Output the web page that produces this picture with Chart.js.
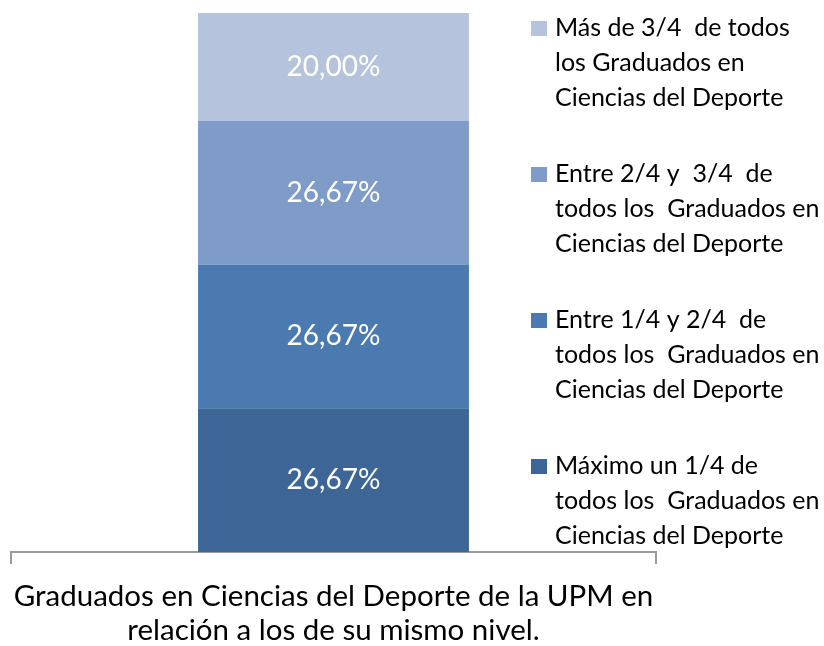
<!DOCTYPE html>
<html>
<head>
<meta charset="utf-8">
<script src="https://cdn.jsdelivr.net/npm/chart.js@4"></script>
<style>
  html, body { margin: 0; padding: 0; background: #fff; }
  #wrap { width: 824px; height: 646px; }
</style>
</head>
<body>
<div id="wrap"><canvas id="chart"></canvas></div>
<script>
// bottom to top of the stack
const categoryLabel = ['Graduados en Ciencias del Deporte de la UPM en', 'relación a los de su mismo nivel.'];
const seriesNames = [
    ['Máximo un 1/4 de', 'todos los  Graduados en', 'Ciencias del Deporte'],
    ['Entre 1/4 y 2/4  de', 'todos los  Graduados en', 'Ciencias del Deporte'],
    ['Entre 2/4 y  3/4  de', 'todos los  Graduados en', 'Ciencias del Deporte'],
    ['Más de 3/4  de todos', 'los Graduados en', 'Ciencias del Deporte']
];
const seriesValues = [26.67, 26.67, 26.67, 20.00];
const seriesColors = ['#3d6595', '#4a7ab0', '#7f9bc7', '#b6c3dd'];

const FONT = 'Lato, "Open Sans", sans-serif';

function fmtPct(v) {
    return v.toFixed(2).replace('.', ',') + '%';
}

// white percentage labels in the middle of each segment
const segmentLabels = {
    id: 'segmentLabels',
    afterDatasetsDraw(chart) {
        const ctx = chart.ctx;
        ctx.save();
        ctx.fillStyle = '#ffffff';
        ctx.font = '28px ' + FONT;
        ctx.textAlign = 'center';
        ctx.textBaseline = 'middle';
        chart.data.datasets.forEach((ds, i) => {
            chart.getDatasetMeta(i).data.forEach((bar, j) => {
                const mid = (bar.y + bar.base) / 2;
                ctx.fillText(fmtPct(ds.data[j]), bar.x, mid);
            });
        });
        ctx.restore();
    }
};

// legend on the right, top item = top of the stack
const sideLegend = {
    id: 'sideLegend',
    afterDraw(chart) {
        const ctx = chart.ctx;
        const x0 = 531;
        const lineH = 35;
        const itemStep = 146;
        ctx.save();
        ctx.font = '25px ' + FONT;
        ctx.textBaseline = 'middle';
        ctx.textAlign = 'left';
        const n = chart.data.datasets.length;
        for (let k = 0; k < n; k++) {
            const ds = chart.data.datasets[n - 1 - k];
            const yTop = 28 + k * itemStep;
            ctx.fillStyle = ds.backgroundColor;
            ctx.fillRect(x0, yTop - 7, 16, 15);
            ctx.fillStyle = '#000000';
            ds.lines.forEach((line, li) => {
                ctx.fillText(line, x0 + 24, yTop + li * lineH);
            });
        }
        ctx.restore();
    }
};

const chart = new Chart(document.getElementById('chart'), {
    type: 'bar',
    data: {
        labels: [categoryLabel],
        datasets: seriesNames.map((lines, i) => ({
            label: lines.join(' '),
            lines: lines,
            data: [seriesValues[i]],
            backgroundColor: seriesColors[i],
            borderWidth: 0,
            categoryPercentage: 1,
            barPercentage: 0.42
        }))
    },
    options: {
        responsive: true,
        maintainAspectRatio: false,
        animation: false,
        layout: {
            padding: { left: 11, right: 168, top: 13, bottom: 0 }
        },
        plugins: {
            legend: { display: false },
            tooltip: { enabled: false }
        },
        scales: {
            x: {
                stacked: true,
                offset: true,
                afterFit(scale) {
                    // fixed axis band, and let the wide label overhang the edges
                    scale.height = 94;
                    scale.paddingLeft = 0;
                    scale.paddingRight = 0;
                },
                grid: {
                    display: true,
                    drawOnChartArea: false,
                    offset: true,
                    color: '#9a9a9a',
                    lineWidth: 2,
                    tickLength: 12
                },
                border: { color: '#9a9a9a', width: 2 },
                ticks: {
                    color: '#000000',
                    font: { family: FONT, size: 29.5, lineHeight: 1.15 },
                    padding: 16,
                    maxRotation: 0
                }
            },
            y: {
                stacked: true,
                display: false,
                min: 0,
                max: 100
            }
        }
    },
    plugins: [segmentLabels, sideLegend]
});
</script>
</body>
</html>
